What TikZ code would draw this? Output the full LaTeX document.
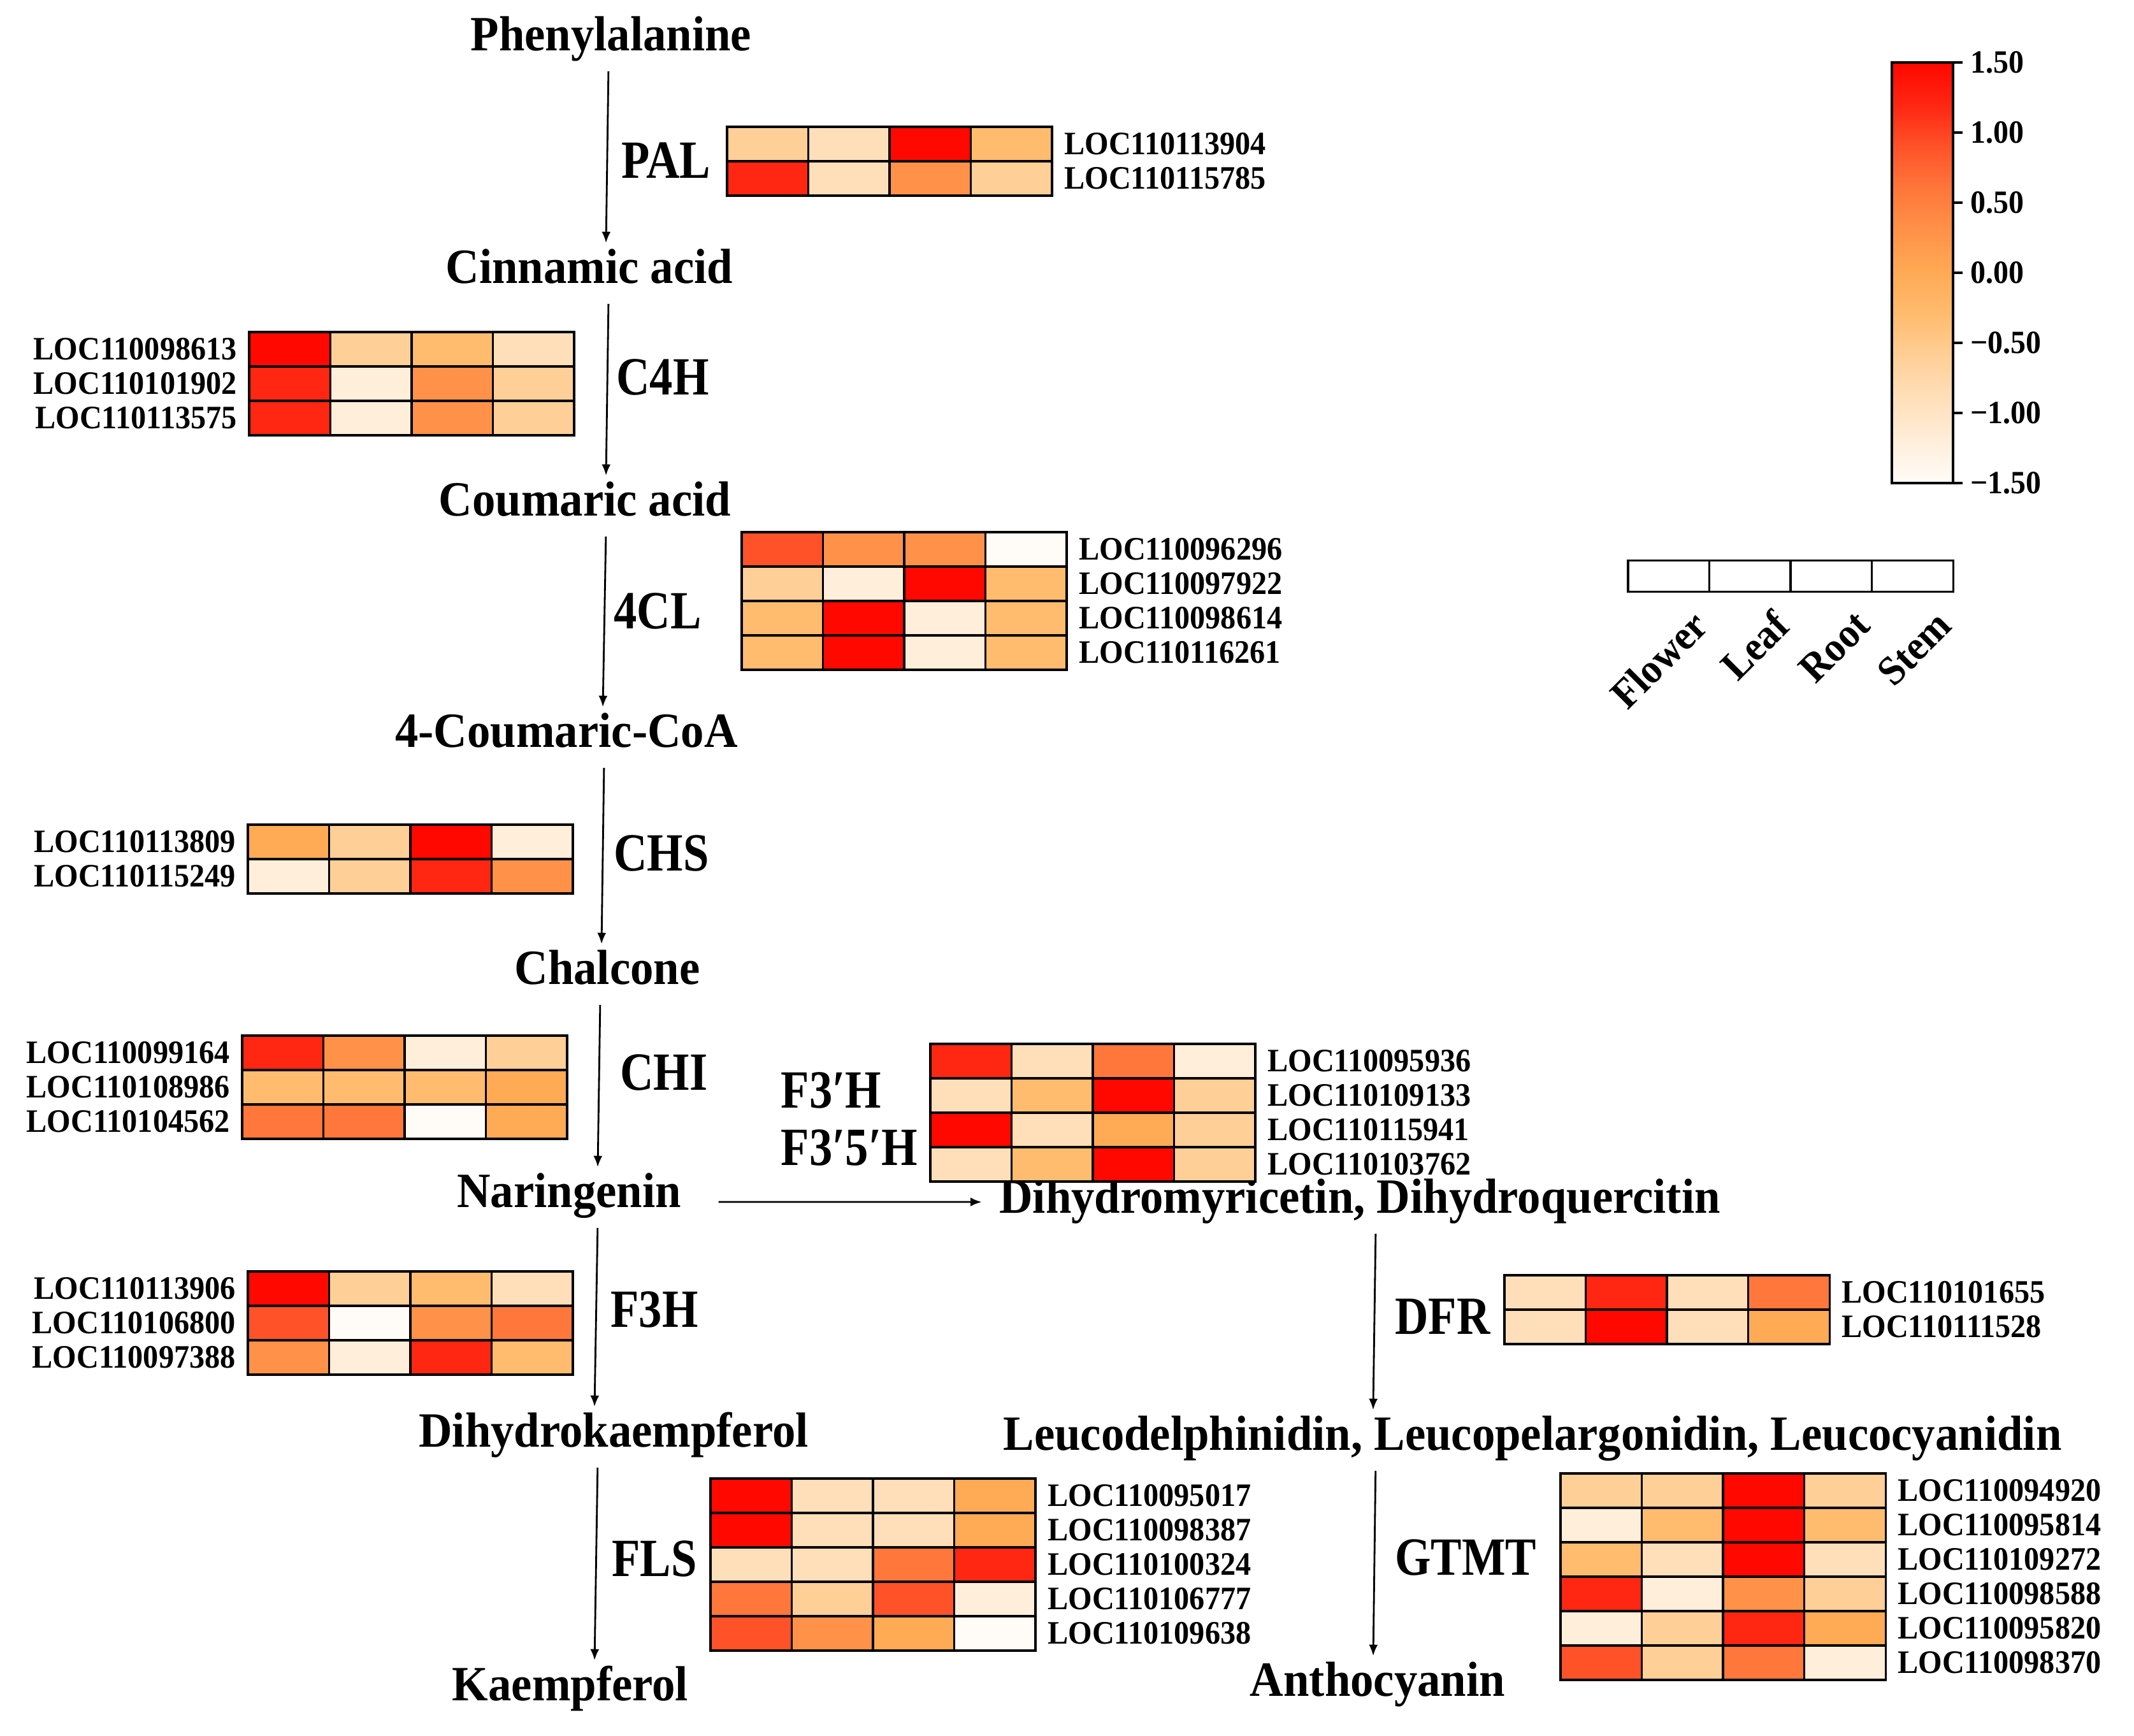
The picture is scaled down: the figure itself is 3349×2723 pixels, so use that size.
\documentclass[tikz,border=0pt]{standalone}
\usepackage{fontspec}
\setmainfont{Liberation Serif}[FakeStretch=0.94]
\newfontfamily\enzfont{Liberation Serif}[FakeStretch=0.86]
\usetikzlibrary{arrows.meta,positioning}
\definecolor{h0}{HTML}{FFFCF8}
\definecolor{h1}{HTML}{FFEEDA}
\definecolor{h2}{HTML}{FFDFBA}
\definecolor{h3}{HTML}{FFCF98}
\definecolor{h4}{HTML}{FFBC6E}
\definecolor{h5}{HTML}{FFAA55}
\definecolor{h6}{HTML}{FF9248}
\definecolor{h7}{HTML}{FF773A}
\definecolor{h8}{HTML}{FF5228}
\definecolor{h9}{HTML}{FF2612}
\definecolor{h10}{HTML}{FF0800}
\pgfdeclareverticalshading{cbar}{100bp}{color(0bp)=(h0); color(25bp)=(h0); color(30bp)=(h1); color(35bp)=(h2); color(40bp)=(h3); color(45bp)=(h4); color(50bp)=(h5); color(55bp)=(h6); color(60bp)=(h7); color(65bp)=(h8); color(70bp)=(h9); color(75bp)=(h10); color(100bp)=(h10)}
\newcommand{\cellw}{127.5}
\newcommand{\lgap}{0.15cm}
\newcommand{\hmrowR}[5]{%
  \foreach \v [count=\i] in {#4}
    \node[cell, fill=h\v] (#3-\i) at (#1+\cellw*\i-0.5*\cellw,#2) {};
  \node[gene, right=\lgap of #3-4] (#3-l) {#5};
}
\newcommand{\hmrowL}[5]{%
  \foreach \v [count=\i] in {#4}
    \node[cell, fill=h\v] (#3-\i) at (#1+\cellw*\i-0.5*\cellw,#2) {};
  \node[gene, left=\lgap of #3-1] (#3-l) {#5};
}

\begin{document}
\begin{tikzpicture}[x=0.01cm, y=-0.01cm]
  \tikzset{metab/.style = {font=\bfseries\fontsize{22}{26}\selectfont, inner sep=2pt, text height=0.53cm, text depth=0.15cm}}
  \tikzset{enz/.style = {font=\enzfont\bfseries\fontsize{24}{28}\selectfont, inner sep=2pt}}
  \tikzset{gene/.style = {font=\bfseries\fontsize{14.6}{16}\selectfont, inner sep=1pt, text height=0.34cm, text depth=0.02cm}}
  \tikzset{cell/.style = {draw, line width=0.9pt, inner sep=0pt, outer sep=0pt, minimum width=1.275cm, minimum height=0.54cm}}
  \tikzset{flow/.style = {-{Latex[length=5pt,width=4pt]}, line width=0.8pt, shorten <=0.1cm, shorten >=0.02cm}}
  \tikzset{cblab/.style = {font=\bfseries\fontsize{14.5}{16}\selectfont, inner sep=1pt, anchor=west}}
  \tikzset{tissue/.style = {font=\bfseries\fontsize{18.5}{20}\selectfont, inner sep=0pt, rotate=45, anchor=east}}
  \path[use as bounding box, fill=white] (0,0) rectangle (3349,2723);

  % pathway
  \node[metab] (phe) at (959,60) {Phenylalanine};
  \node[metab] (cin) at (925,425) {Cinnamic acid};
  \node[metab] (cou) at (918,790) {Coumaric acid};
  \node[metab] (cca) at (889,1153) {4-Coumaric-CoA};
  \node[metab] (chal) at (953,1525) {Chalcone};
  \node[metab] (nar) at (893,1875) {Naringenin};
  \node[metab] (dhm) at (2134,1884) {Dihydromyricetin, Dihydroquercitin};
  \node[metab] (dhk) at (963,2251) {Dihydrokaempferol};
  \node[metab] (leu) at (2405,2256) {Leucodelphinidin, Leucopelargonidin, Leucocyanidin};
  \node[metab] (kae) at (895,2649) {Kaempferol};
  \node[metab] (ant) at (2162,2642) {Anthocyanin};

  \draw[flow] ([xshift=-0.04cm]phe.south) -- ([xshift=0.26cm]cin.north);
  \draw[flow] ([xshift=0.30cm]cin.south) -- ([xshift=0.33cm]cou.north);
  \draw[flow] ([xshift=0.33cm]cou.south) -- ([xshift=0.57cm]cca.north);
  \draw[flow] ([xshift=0.59cm]cca.south) -- ([xshift=-0.09cm]chal.north);
  \draw[flow] ([xshift=-0.11cm]chal.south) -- ([xshift=0.45cm]nar.north);
  \draw[flow] ([xshift=0.41cm,yshift=-0.11cm]nar.east) -- ([xshift=-0.18cm,yshift=-0.02cm]dhm.west);
  \draw[flow] ([xshift=0.45cm]nar.south) -- ([xshift=-0.30cm]dhk.north);
  \draw[flow] ([xshift=0.25cm]dhm.south) -- ([xshift=-2.50cm]leu.north);
  \draw[flow] ([xshift=-0.25cm]dhk.south) -- ([xshift=0.38cm]kae.north);
  \draw[flow] ([xshift=-2.46cm]leu.south) -- ([xshift=-0.07cm]ant.north);

  % enzymes
  \node[enz] (pal) at (1045,252) {PAL};
  \node[enz] (c4h) at (1040,592) {C4H};
  \node[enz] (fcl) at (1032,959) {4CL};
  \node[enz] (chs) at (1038,1339) {CHS};
  \node[enz] (chi) at (1042,1683) {CHI};
  \node[enz, anchor=west] (fh) at (1218,1711) {F3′H};
  \node[enz, anchor=west] (ffh) at (1218,1801) {F3′5′H};
  \node[enz] (fth) at (1027,2055) {F3H};
  \node[enz] (dfr) at (2264,2066) {DFR};
  \node[enz] (fls) at (1027,2446) {FLS};
  \node[enz] (gtmt) at (2300,2444) {GTMT};

  % heatmaps: Flower/Leaf/Root/Stem
  \hmrowR{1141}{226}{pal1}{3,2,10,4}{LOC110113904}
  \hmrowR{1141}{280}{pal2}{9,2,6,3}{LOC110115785}

  \hmrowL{391}{548}{cfh1}{10,3,4,2}{LOC110098613}
  \hmrowL{391}{602}{cfh2}{9,1,6,3}{LOC110101902}
  \hmrowL{391}{656}{cfh3}{9,1,6,3}{LOC110113575}

  \hmrowR{1164}{862}{fcl1}{8,6,6,0}{LOC110096296}
  \hmrowR{1164}{916}{fcl2}{3,1,10,4}{LOC110097922}
  \hmrowR{1164}{970}{fcl3}{4,10,1,4}{LOC110098614}
  \hmrowR{1164}{1024}{fcl4}{4,10,1,4}{LOC110116261}

  \hmrowL{389}{1321}{chs1}{5,3,10,1}{LOC110113809}
  \hmrowL{389}{1375}{chs2}{1,3,9,6}{LOC110115249}

  \hmrowL{380}{1652}{chi1}{9,6,1,3}{LOC110099164}
  \hmrowL{380}{1706}{chi2}{4,4,4,5}{LOC110108986}
  \hmrowL{380}{1760}{chi3}{7,7,0,5}{LOC110104562}

  \hmrowR{1460}{1665}{fh1}{9,2,7,1}{LOC110095936}
  \hmrowR{1460}{1719}{fh2}{2,4,10,3}{LOC110109133}
  \hmrowR{1460}{1773}{fh3}{10,2,5,3}{LOC110115941}
  \hmrowR{1460}{1827}{fh4}{2,4,10,3}{LOC110103762}

  \hmrowL{389}{2022}{fth1}{10,3,4,2}{LOC110113906}
  \hmrowL{389}{2076}{fth2}{8,0,6,7}{LOC110106800}
  \hmrowL{389}{2130}{fth3}{6,1,9,4}{LOC110097388}

  \hmrowR{2361}{2028}{dfr1}{2,9,2,7}{LOC110101655}
  \hmrowR{2361}{2082}{dfr2}{2,10,2,5}{LOC110111528}

  \hmrowR{1115}{2347}{fls1}{10,2,2,5}{LOC110095017}
  \hmrowR{1115}{2401}{fls2}{10,2,2,5}{LOC110098387}
  \hmrowR{1115}{2455}{fls3}{2,2,7,9}{LOC110100324}
  \hmrowR{1115}{2509}{fls4}{7,3,8,1}{LOC110106777}
  \hmrowR{1115}{2563}{fls5}{8,6,5,0}{LOC110109638}

  \hmrowR{2449}{2339}{gt1}{3,3,10,3}{LOC110094920}
  \hmrowR{2449}{2393}{gt2}{1,4,10,4}{LOC110095814}
  \hmrowR{2449}{2447}{gt3}{4,2,10,2}{LOC110109272}
  \hmrowR{2449}{2501}{gt4}{9,1,6,3}{LOC110098588}
  \hmrowR{2449}{2555}{gt5}{1,3,9,5}{LOC110095820}
  \hmrowR{2449}{2609}{gt6}{8,3,7,1}{LOC110098370}

  % colour key
  \shade[shading=cbar] (2969,98) rectangle (3065,758);
  \draw[line width=1.1pt] (2969,98) rectangle (3065,758);
  \foreach \k/\t in {0/1.50, 1/1.00, 2/0.50, 3/0.00, 4/−0.50, 5/−1.00, 6/−1.50}{
    \draw[line width=1.1pt] (3065,98+110*\k) -- (3080,98+110*\k);
    \node[cblab] (cb\k) at (3088,98+110*\k) {\t};
  }

  % tissue key
  \foreach \t [count=\i] in {Flower, Leaf, Root, Stem}{
    \node[cell, fill=white, minimum height=0.49cm] (key\i) at (2555+\cellw*\i-0.5*\cellw,904) {};
    \node[tissue] (keyl\i) at (2555+\cellw*\i-0.5*\cellw+50,970) {\t};
  }
\end{tikzpicture}
\end{document}
